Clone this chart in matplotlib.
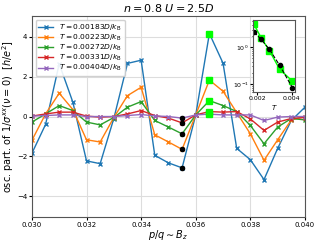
import numpy as np
import matplotlib
matplotlib.use("Agg")
import matplotlib.pyplot as plt

pq = [0.0300, 0.0305, 0.0310, 0.0315, 0.0320, 0.0325, 0.0330, 0.0335, 0.0340, 0.0345,
      0.0350, 0.0355, 0.0360, 0.0365, 0.0370, 0.0375, 0.0380, 0.0385, 0.0390, 0.0395, 0.0400]

temps = [0.00183, 0.00223, 0.00272, 0.00331, 0.00404]

s_183 = [-1.85, -0.40, 2.65, 0.72, -2.23, -2.37, -0.10, 2.67, 2.83, -1.95,
         -2.33, -2.58, 0.08, 4.17, 2.68, -1.60, -2.17, -3.17, -1.60, -0.20, 0.47]
s_223 = [-1.20, 0.13, 1.17, 0.35, -1.17, -1.28, -0.05, 1.05, 1.47, -0.92,
         -1.28, -1.65, 0.08, 1.83, 1.27, 0.20, -0.87, -2.20, -1.17, -0.17, 0.00]
s_272 = [-0.28, 0.13, 0.55, 0.30, -0.28, -0.42, -0.05, 0.47, 0.75, -0.20,
         -0.53, -0.87, 0.08, 0.80, 0.55, 0.25, -0.45, -1.37, -0.53, -0.10, -0.17]
s_331 = [0.02, 0.13, 0.22, 0.22, 0.02, -0.03, 0.00, 0.13, 0.30, 0.05,
         -0.08, -0.32, 0.08, 0.25, 0.22, 0.25, -0.12, -0.70, -0.28, -0.10, -0.05]
s_404 = [0.02, 0.05, 0.08, 0.08, 0.00, 0.00, 0.00, 0.05, 0.10, 0.03,
         0.00, -0.08, 0.08, 0.12, 0.08, 0.08, 0.08, -0.20, -0.03, 0.00, 0.00]

series = [s_183, s_223, s_272, s_331, s_404]
colors = ["#1f77b4", "#ff7f0e", "#2ca02c", "#d62728", "#9467bd"]

i_black = 11   # p/q = 0.0355
i_green = 13   # p/q = 0.0365

fig = plt.figure(figsize=(3.19, 2.43), dpi=100)
ax = fig.add_axes([0.100, 0.107, 0.856, 0.827])

for T, s, c in zip(temps, series, colors):
    ax.plot(pq, s, color=c, marker="x", markersize=3, linewidth=1,
            label=r"$T = %.5f D/k_\mathrm{B}$" % T)

for s in series:
    ax.plot(pq[i_black], s[i_black], "o", color="black", markersize=3, zorder=5)
    ax.plot(pq[i_green], s[i_green], "s", color="lime", markersize=4, zorder=5)

ax.set_xlim(0.030, 0.040)
ax.set_ylim(-5.05, 5.05)
ax.set_xticks([0.030, 0.032, 0.034, 0.036, 0.038, 0.040])
ax.set_xticklabels(["0.030", "0.032", "0.034", "0.036", "0.038", "0.040"])
ax.set_yticks([-4, -2, 0, 2, 4])
ax.tick_params(labelsize=5, length=2, pad=1.5)
ax.grid(True, color="#dddddd", linewidth=0.8)
for sp in ax.spines.values():
    sp.set_color("#555555")
ax.set_title(r"$n = 0.8\ U = 2.5D$", fontsize=8, pad=3)
ax.set_xlabel(r"$p/q \sim B_z$", fontsize=7, labelpad=0)
ax.set_ylabel(r"osc. part. of $1/\sigma^{xx}(\nu=0)$  $[h/e^2]$", fontsize=7)
ax.yaxis.set_label_coords(-0.058, 0.5)
ax.legend(loc="upper left", fontsize=5.4, handlelength=2.0, labelspacing=0.0,
          borderpad=0.35, framealpha=0.9, bbox_to_anchor=(0.0, 1.0))

ins = fig.add_axes([0.793, 0.621, 0.132, 0.297])
green_amp = [abs(s[i_green]) for s in series]
black_amp = [abs(s[i_black]) for s in series]
ins.plot(temps, green_amp, "s-", color="lime", markersize=4, linewidth=1)
ins.plot(temps, black_amp, "o--", color="black", markersize=3, linewidth=0.8)
ins.set_yscale("log")
ins.set_xlim(0.00177, 0.00420)
ins.set_ylim(0.06, 5.5)
ins.set_xticks([0.002, 0.004])
ins.set_xticklabels(["0.002", "0.004"])
ins.tick_params(labelsize=4.5, length=2, pad=1)
ins.tick_params(which="minor", length=1)
ins.set_xlabel(r"$T$", fontsize=5, labelpad=1)
for sp in ins.spines.values():
    sp.set_color("#555555")

fig.savefig("out.png", dpi=100)
